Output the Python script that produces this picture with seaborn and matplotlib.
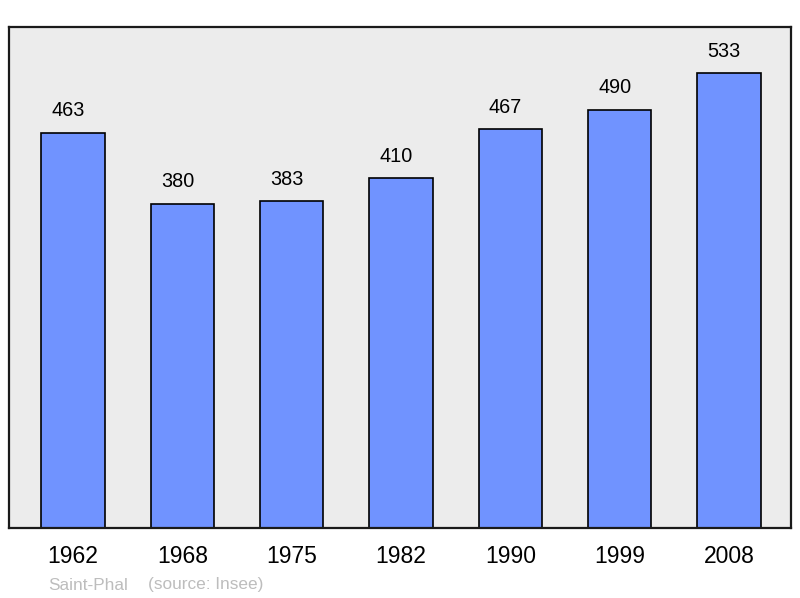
import matplotlib
matplotlib.use("Agg")
import matplotlib.pyplot as plt
import seaborn as sns
import pandas as pd

# Population data for Saint-Phal
years = ["1962", "1968", "1975", "1982", "1990", "1999", "2008"]
population = [463, 380, 383, 410, 467, 490, 533]

df = pd.DataFrame({"year": years, "population": population})

sns.set_theme(style="white")
plt.rcParams["font.family"] = ["Liberation Sans", "DejaVu Sans"]

fig = plt.figure(figsize=(8, 5.98), dpi=100)
ax = fig.add_axes([9 / 800, 70 / 598, 782 / 800, 501 / 598])
ax.set_facecolor("#ececec")

sns.barplot(data=df, x="year", y="population", color="#7093ff", saturation=1,
            width=0.58, edgecolor="black", linewidth=1.2, ax=ax)

#Labels above each bar.
for i, v in enumerate(population):
    ax.annotate(str(v), (i, v), xytext=(-3.6, 9), textcoords="offset points",
                ha="center", va="bottom", fontsize=14.3, color="black")

ax.set_xlim(-0.586, 6.567)
ax.set_ylim(0, 587)
ax.set_yticks([])
ax.set_xlabel("")
ax.set_ylabel("")
ax.tick_params(axis="x", length=0, pad=12, labelsize=16.5, labelcolor="black")
for s in ax.spines.values():
    s.set_visible(True)
    s.set_color("#1a1a1a")
    s.set_linewidth(1.6)

fig.text(48 / 800, 1 - 585 / 598, "Saint-Phal", fontsize=12.4, color="#bdbdbd", va="center")
fig.text(148 / 800, 1 - 585 / 598, "(source: Insee)", fontsize=12.4, color="#bdbdbd", va="center")

fig.savefig("out.png", dpi=100)
